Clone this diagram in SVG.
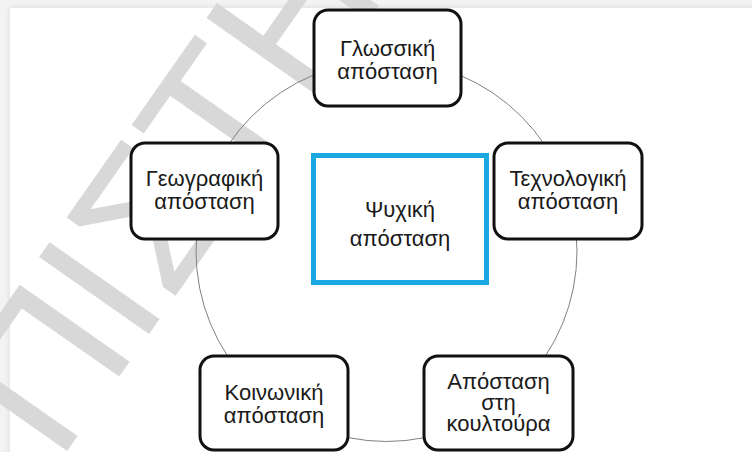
<svg xmlns="http://www.w3.org/2000/svg" width="752" height="452" viewBox="0 0 752 452">
  <defs>
    <filter id="panelShadow" x="-5%" y="-5%" width="110%" height="110%">
      <feGaussianBlur stdDeviation="3"/>
    </filter>
    <style>
      .node rect { fill: #ffffff; stroke: #111111; stroke-width: 3; }
      .label { font-family: "Liberation Sans", Arial, sans-serif; font-size: 22px; fill: #1a1a1a; text-anchor: middle; }
      .center rect { fill: #ffffff; stroke: #19a8e0; stroke-width: 5; }
      .ring { fill: none; stroke: #808080; stroke-width: 1; }
      .mark { font-family: "Liberation Sans", Arial, sans-serif; font-size: 195px; fill: #d8d8d8; }
    </style>
  </defs>

  <!-- page background with slide panel -->
  <rect x="0" y="0" width="752" height="452" fill="#f3f3f3"/>
  <rect x="10" y="8" width="760" height="460" fill="#d9d9d9" filter="url(#panelShadow)"/>
  <rect x="10" y="8" width="742" height="444" fill="#ffffff"/>

  <!-- watermark -->
  <text class="mark" transform="translate(58,464) rotate(-55)">ΠΙΣΤΗ</text>

  <!-- connectors: ring linking the outer nodes -->
  <g id="connectors">
    <circle class="ring" cx="386.5" cy="251" r="190.5"/>
  </g>

  <g id="node-center" class="center">
    <rect x="313.5" y="155.5" width="173" height="127"/>
    <text class="label" x="400" y="217">Ψυχική</text>
    <text class="label" x="400" y="246">απόσταση</text>
  </g>

  <g id="node-glossiki" class="node">
    <rect x="314" y="10" width="147" height="96" rx="14"/>
    <text class="label" x="387.5" y="56">Γλωσσική</text>
    <text class="label" x="387.5" y="79">απόσταση</text>
  </g>

  <g id="node-geografiki" class="node">
    <rect x="131" y="143" width="147" height="96" rx="14"/>
    <text class="label" x="204.5" y="186">Γεωγραφική</text>
    <text class="label" x="204.5" y="209">απόσταση</text>
  </g>

  <g id="node-technologiki" class="node">
    <rect x="494" y="143" width="148" height="96" rx="14"/>
    <text class="label" x="568" y="186">Τεχνολογική</text>
    <text class="label" x="568" y="209">απόσταση</text>
  </g>

  <g id="node-koinoniki" class="node">
    <rect x="200" y="356" width="148" height="94" rx="14"/>
    <text class="label" x="274" y="400">Κοινωνική</text>
    <text class="label" x="274" y="423">απόσταση</text>
  </g>

  <g id="node-koultoura" class="node">
    <rect x="424" y="356" width="149" height="94" rx="14"/>
    <text class="label" x="498.5" y="389">Απόσταση</text>
    <text class="label" x="498.5" y="410">στη</text>
    <text class="label" x="498.5" y="431">κουλτούρα</text>
  </g>
</svg>
